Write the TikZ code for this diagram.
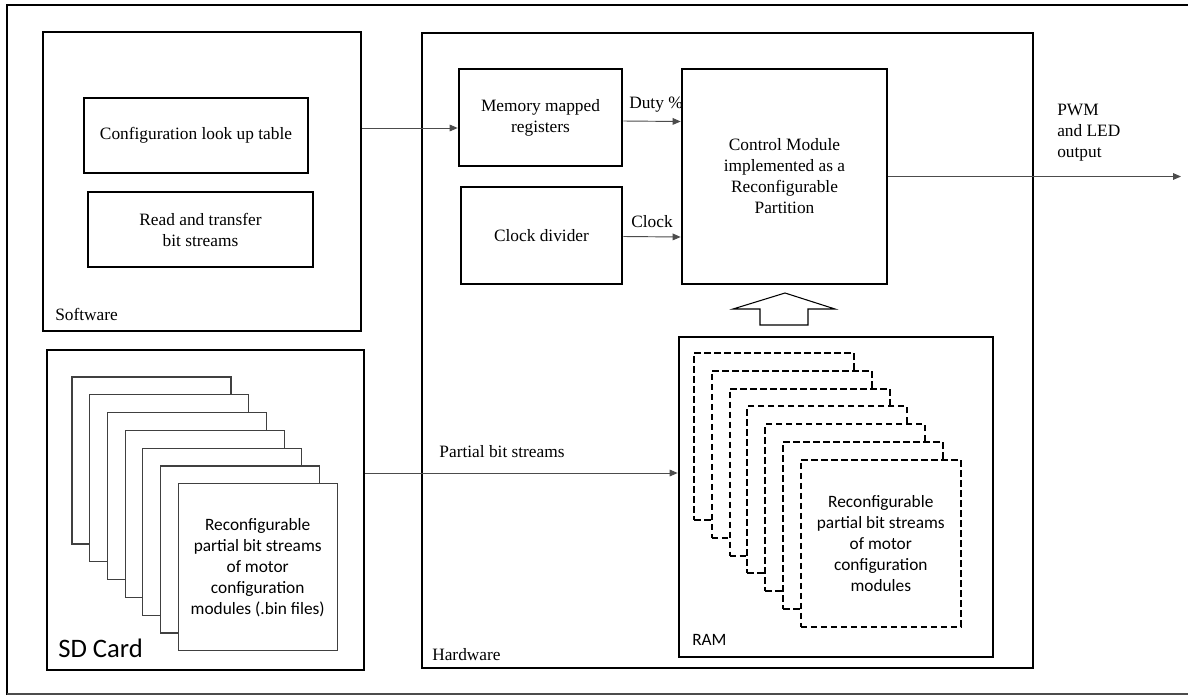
\documentclass[tikz,border=0pt]{standalone}
\usepackage{fontspec}
\setmainfont{Liberation Serif}
\newfontfamily\calfont{Carlito}
\newcommand\serifsize{\rmfamily\fontsize{13}{15.75}\selectfont}
\newcommand\calsize{\calfont\fontsize{13}{15.75}\selectfont}
\usetikzlibrary{calc,arrows.meta}
\tikzset{
  wh/.style 2 args={minimum width=#1*0.75pt, minimum height=#2*0.75pt},
  blk/.style={draw, line width=2pt, inner sep=0pt, fill=white, font=\serifsize, align=center},
  sdpage/.style={draw=black!75, line width=0.8pt, fill=white, wh={159}{167}, inner sep=0pt, font=\calsize, align=center},
  rampage/.style={draw, line width=1.5pt, dash pattern=on 5pt off 2.5pt, fill=white, wh={160}{167}, inner sep=0pt, font=\calsize, align=center},
  arr/.style={draw=black!70, line width=0.7pt, -{Triangle[length=6pt,width=5pt]}},
  lbl/.style={font=\serifsize, align=center, inner sep=0pt}
}
\begin{document}
\begin{tikzpicture}[x=0.75pt,y=-0.75pt]
\fill[white] (0,0) rectangle (1188,696);
\useasboundingbox (0,0) rectangle (1188,696);
% outer frame
\draw[line width=1.6pt] (7,695) -- (7,5) -- (1195,5);
\draw[line width=0.8pt, draw=black!70] (7,694) -- (1195,694);
% software
\node[blk, wh={318}{299}] (sw) at (202,181.5) {};
\node[blk, wh={224}{75}] (cfg) at (196,135.5) {Configuration look up table};
\node[blk, wh={225}{75}] (rd) at (200.5,229.5) {Read and transfer\\bit streams};
\node[lbl, anchor=base west] (swl) at (55,320) {Software};
% SD card
\node[blk, wh={317}{320}] (sd) at (205.5,510) {};
\foreach \i in {0,...,5}
  \node[sdpage] (sdp\i) at ({151.5+17.7*\i},{460.5+17.8*\i}) {};
\node[sdpage] (sdp6) at (257.7,567.3) {Reconfigurable\\partial bit streams\\of motor\\configuration\\modules (.bin files)};
\node[anchor=base west, inner sep=0pt, font=\calfont\fontsize{20}{24}\selectfont] (sdl) at (58,657) {SD Card};
% hardware
\node[blk, wh={611}{635}] (hw) at (727.5,350.5) {};
\node[lbl, anchor=base west] (hwl) at (432,660) {Hardware};
\node[blk, wh={163}{97}] (mm) at (540.5,117.5) {Memory mapped\\registers};
\node[blk, wh={161}{97}] (cd) at (541.5,235.5) {Clock divider};
\node[blk, wh={205}{215}] (cm) at (784.5,176.5) {Control Module\\implemented as a\\Reconfigurable\\Partition};
\node[blk, wh={314}{320}] (ram) at (836,497) {};
\foreach \i in {0,...,5}
  \node[rampage] (rp\i) at ({774+17.8*\i},{436.5+17.8*\i}) {};
\node[rampage] (rp6) at (880.8,543.3) {Reconfigurable\\partial bit streams\\of motor\\configuration\\modules};
\node[anchor=base west, inner sep=0pt, font=\calsize] (raml) at (692,645) {RAM};
% hollow arrow RAM -> control
\draw[line width=0.8pt, fill=white] (760,325) -- (760,309) -- (733,309) -- (785,293) -- (835,309) -- (808,309) -- (808,325) -- cycle;
% connectors
\draw[arr] ($(sw.east)+(0,-53.5)$) -- ($(mm.west)+(0,10.5)$);
\draw[arr] ($(mm.east)+(0,3.5)$) -- ($(cm.west)+(0,-55)$);
\draw[arr] ($(cd.east)+(0,1)$) -- ($(cm.west)+(0,60.5)$);
\coordinate (out) at (1181,176.5);
\draw[arr] (cm.east) -- (out);
\draw[arr] ($(sd.east)+(0,-37)$) -- ($(ram.west)+(0,-24)$);
% connector labels
\node[lbl] (duty) at (656,105) {Duty \%};
\node[lbl] (clk) at (652,222) {Clock};
\node[lbl, anchor=west, align=left] (pwm) at (1057,133) {PWM\\and LED\\output};
\node[lbl] (pbs) at (502,452) {Partial bit streams};
\end{tikzpicture}
\end{document}
